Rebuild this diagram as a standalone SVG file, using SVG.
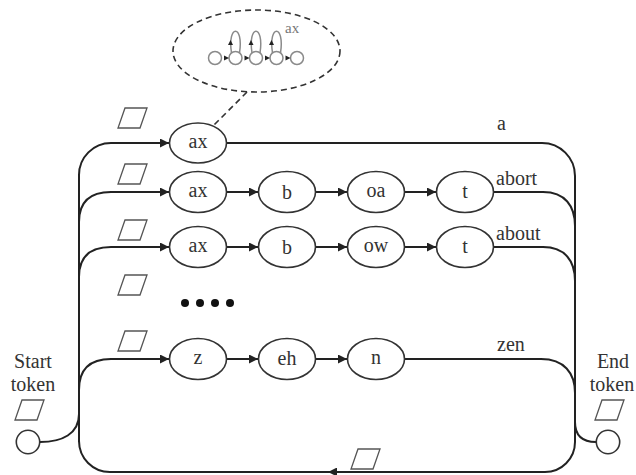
<svg xmlns="http://www.w3.org/2000/svg" width="636" height="475" viewBox="0 0 636 475">
  <defs>
    <marker id="arrow" viewBox="0 0 10 10" refX="10" refY="5" markerWidth="10" markerHeight="9" markerUnits="userSpaceOnUse" orient="auto">
      <path d="M0,0 L10,5 L0,10 z" fill="#222"/>
    </marker>
    <polygon id="token" points="7,0 29,0 22,20 0,20"/>
  </defs>
  <style>
    .bg { fill: #ffffff; }
    .conn { fill: none; stroke: #222; stroke-width: 2; }
    .state { fill: #fff; stroke: #333; stroke-width: 1.6; }
    .lbl { font-family: "Liberation Serif", "DejaVu Serif", serif; font-size: 20px; fill: #333; }
    .node-lbl { text-anchor: middle; }
    .tok { fill: none; stroke: #555; stroke-width: 1.3; }
    .dash { fill: none; stroke: #333; stroke-width: 1.6; stroke-dasharray: 6 4; }
    .hmm { fill: #fff; stroke: #8a8a8a; stroke-width: 1.5; }
    .hmm-loop { fill: none; stroke: #8a8a8a; stroke-width: 1.5; }
    .hmm-head { fill: #222; }
    .hmm-lbl { font-family: "Liberation Serif", "DejaVu Serif", serif; font-size: 15px; fill: #777; }
    .dot { fill: #111; }
  </style>

  <rect class="bg" width="636" height="475"/>

  <!-- connectors -->
  <g id="connectors">
    <!-- left trunk and first word branch -->
    <path class="conn" d="M79,442 V175 A32,32 0 0 1 111,143 H169" marker-end="url(#arrow)"/>
    <!-- left branches -->
    <path class="conn" d="M79,222 C79,202 90,192 111,192 H169" marker-end="url(#arrow)"/>
    <path class="conn" d="M79,277 C79,257 90,247 111,247 H169" marker-end="url(#arrow)"/>
    <path class="conn" d="M79,390 C79,369 90,359 111,359 H169" marker-end="url(#arrow)"/>
    <!-- start token link -->
    <path class="conn" d="M40,442 C62,442 79,434 79,414"/>

    <!-- phone transitions -->
    <path class="conn" d="M226,192 H258" marker-end="url(#arrow)"/>
    <path class="conn" d="M315,192 H347" marker-end="url(#arrow)"/>
    <path class="conn" d="M404,192 H436" marker-end="url(#arrow)"/>
    <path class="conn" d="M226,247 H258" marker-end="url(#arrow)"/>
    <path class="conn" d="M315,247 H347" marker-end="url(#arrow)"/>
    <path class="conn" d="M404,247 H436" marker-end="url(#arrow)"/>
    <path class="conn" d="M226,359 H258" marker-end="url(#arrow)"/>
    <path class="conn" d="M315,359 H347" marker-end="url(#arrow)"/>

    <!-- right trunk -->
    <path class="conn" d="M227,143 H542 A33,33 0 0 1 575,176 V442 A30,30 0 0 1 545,472 H328" marker-end="url(#arrow)"/>
    <path class="conn" d="M330,472 H110 A31,31 0 0 1 79,441"/>
    <!-- right branches -->
    <path class="conn" d="M493,192 H543 C565,192 575,206 575,226"/>
    <path class="conn" d="M493,247 H543 C565,247 575,261 575,281"/>
    <path class="conn" d="M404,359 H541 C564,359 575,373 575,393"/>
    <!-- end token link -->
    <path class="conn" d="M575,422 C575,436 582,442 596,442"/>

    <!-- callout link -->
    <path class="dash" d="M247,92 L214,125"/>
  </g>

  <!-- word "a" -->
  <g id="a-ax">
    <ellipse class="state" cx="198" cy="143" rx="28.5" ry="20"/>
    <text class="lbl node-lbl" x="198" y="148">ax</text>
  </g>

  <!-- word "abort" -->
  <g id="abort-ax">
    <ellipse class="state" cx="198" cy="192" rx="28.5" ry="20.5"/>
    <text class="lbl node-lbl" x="198" y="197">ax</text>
  </g>
  <g id="abort-b">
    <ellipse class="state" cx="287" cy="192" rx="28.5" ry="20.5"/>
    <text class="lbl node-lbl" x="287" y="199">b</text>
  </g>
  <g id="abort-oa">
    <ellipse class="state" cx="376" cy="192" rx="28.5" ry="20.5"/>
    <text class="lbl node-lbl" x="376" y="197">oa</text>
  </g>
  <g id="abort-t">
    <ellipse class="state" cx="465" cy="192" rx="28.5" ry="20.5"/>
    <text class="lbl node-lbl" x="465" y="198">t</text>
  </g>

  <!-- word "about" -->
  <g id="about-ax">
    <ellipse class="state" cx="198" cy="247" rx="28.5" ry="20.5"/>
    <text class="lbl node-lbl" x="198" y="252">ax</text>
  </g>
  <g id="about-b">
    <ellipse class="state" cx="287" cy="247" rx="28.5" ry="20.5"/>
    <text class="lbl node-lbl" x="287" y="254">b</text>
  </g>
  <g id="about-ow">
    <ellipse class="state" cx="376" cy="247" rx="28.5" ry="20.5"/>
    <text class="lbl node-lbl" x="376" y="252">ow</text>
  </g>
  <g id="about-t">
    <ellipse class="state" cx="465" cy="247" rx="28.5" ry="20.5"/>
    <text class="lbl node-lbl" x="465" y="253">t</text>
  </g>

  <!-- word "zen" -->
  <g id="zen-z">
    <ellipse class="state" cx="198" cy="359" rx="28.5" ry="20.5"/>
    <text class="lbl node-lbl" x="198" y="364">z</text>
  </g>
  <g id="zen-eh">
    <ellipse class="state" cx="287" cy="359" rx="28.5" ry="20.5"/>
    <text class="lbl node-lbl" x="287" y="365">eh</text>
  </g>
  <g id="zen-n">
    <ellipse class="state" cx="376" cy="359" rx="28.5" ry="20.5"/>
    <text class="lbl node-lbl" x="376" y="364">n</text>
  </g>

  <!-- ellipsis for omitted words -->
  <g id="more-words">
    <circle class="dot" cx="185" cy="303" r="4"/>
    <circle class="dot" cx="200" cy="303" r="4"/>
    <circle class="dot" cx="215" cy="303" r="4"/>
    <circle class="dot" cx="230" cy="303" r="4"/>
  </g>

  <!-- word labels -->
  <g id="word-labels">
    <text class="lbl" x="497" y="130">a</text>
    <text class="lbl" x="496" y="185">abort</text>
    <text class="lbl" x="496" y="240">about</text>
    <text class="lbl" x="497" y="351">zen</text>
  </g>

  <!-- tokens -->
  <g id="tokens">
    <use href="#token" class="tok" x="118" y="108"/>
    <use href="#token" class="tok" x="118" y="164"/>
    <use href="#token" class="tok" x="118" y="220"/>
    <use href="#token" class="tok" x="118" y="275"/>
    <use href="#token" class="tok" x="118" y="331"/>
    <use href="#token" class="tok" x="15" y="400"/>
    <use href="#token" class="tok" x="595" y="400"/>
    <use href="#token" class="tok" x="351" y="449"/>
  </g>

  <!-- start node -->
  <g id="start">
    <circle class="state" cx="28" cy="442" r="11.7"/>
    <text class="lbl node-lbl" x="33" y="368">Start</text>
    <text class="lbl node-lbl" x="33" y="391">token</text>
  </g>

  <!-- end node -->
  <g id="end">
    <circle class="state" cx="608" cy="442" r="11.7"/>
    <text class="lbl node-lbl" x="613" y="368">End</text>
    <text class="lbl node-lbl" x="612" y="391">token</text>
  </g>

  <!-- callout: phone HMM for "ax" -->
  <g id="ax-hmm">
    <ellipse class="dash" cx="256.5" cy="51" rx="83.5" ry="41"/>
    <path class="hmm-loop" d="M231.5,53 C227,24 244,24 239.5,53"/>
    <path class="hmm-loop" d="M252,53 C247.5,24 264.5,24 260,53"/>
    <path class="hmm-loop" d="M272.5,53 C268,24 285,24 280.5,53"/>
    <circle class="hmm" cx="215" cy="58" r="6.5"/>
    <circle class="hmm" cx="235.5" cy="58" r="6.5"/>
    <circle class="hmm" cx="256" cy="58" r="6.5"/>
    <circle class="hmm" cx="276.5" cy="58" r="6.5"/>
    <circle class="hmm" cx="297" cy="58" r="6.5"/>
    <path class="hmm-head" d="M224,55.5 L229,58 L224,60.5 z"/>
    <path class="hmm-head" d="M244.5,55.5 L249.5,58 L244.5,60.5 z"/>
    <path class="hmm-head" d="M265,55.5 L270,58 L265,60.5 z"/>
    <path class="hmm-head" d="M285.5,55.5 L290.5,58 L285.5,60.5 z"/>
    <path class="hmm-head" d="M228,45 L230.5,40 L233,45 z"/>
    <path class="hmm-head" d="M248.5,45 L251,40 L253.5,45 z"/>
    <path class="hmm-head" d="M269,45 L271.5,40 L274,45 z"/>
    <text class="hmm-lbl" x="285" y="33">ax</text>
  </g>
</svg>
